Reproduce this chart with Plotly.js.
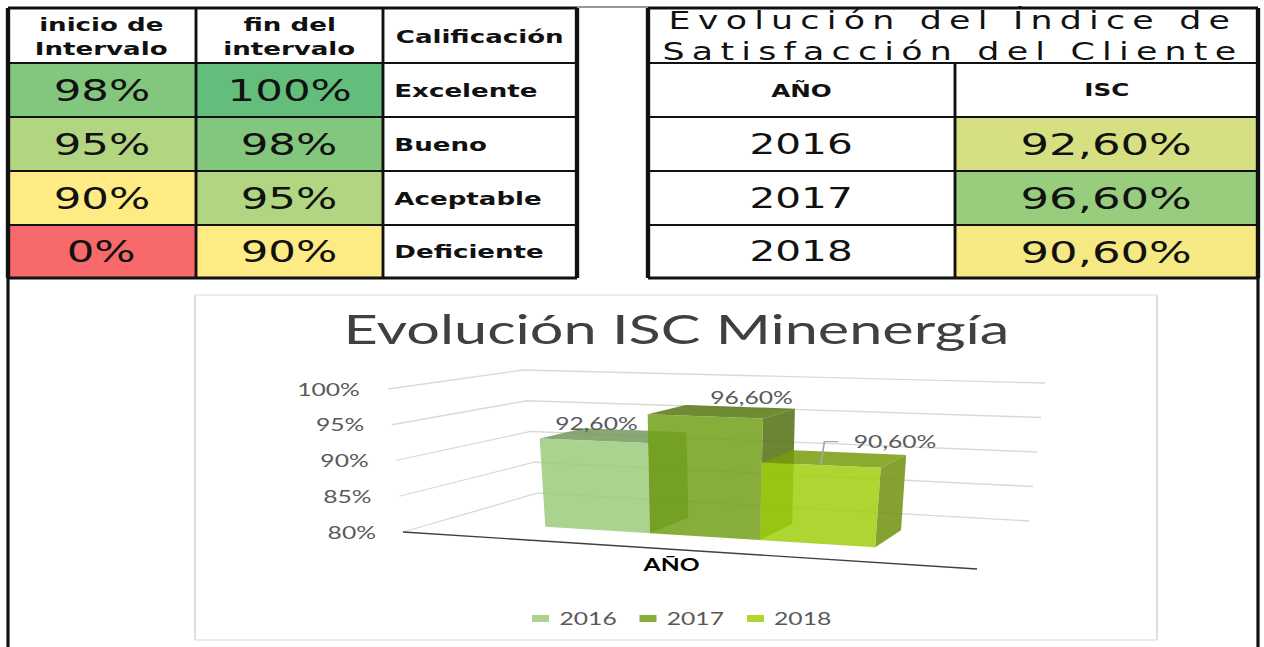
<!DOCTYPE html>
<html><head><meta charset="utf-8">
<script src="https://cdn.plot.ly/plotly-3.0.1.min.js"></script>
<style>
html,body{margin:0;padding:0;background:#fff;overflow:hidden;}
#wrap{width:1264px;height:647px;overflow:hidden;}
#chart{width:872px;height:647px;transform:scaleX(1.449541);transform-origin:0 0;}
</style></head>
<body><div id="wrap"><div id="chart"></div></div>
<script>
// ---------------- data ----------------
const intervalStart = [98, 95, 90, 0];
const intervalEnd = [100, 98, 95, 90];
const ratings = ['Excelente', 'Bueno', 'Aceptable', 'Deficiente'];
const leftHeaders = [['inicio de', 'Intervalo'], ['fin del', 'intervalo'], ['Calificación']];
const rightTitle = ['Evolución del Índice de', 'Satisfacción del Cliente'];
const rightHeaders = ['AÑO', 'ISC'];
const years = ['2016', '2017', '2018'];
const isc = [92.6, 96.6, 90.6];
const yTicks = [80, 85, 90, 95, 100];
const chartTitle = 'Evolución ISC Minenergía';
const categoryLabel = 'AÑO';

// ---------------- styles / layout config ----------------
const scaleStops = [[0, [248, 105, 107]], [90, [255, 235, 132]], [100, [99, 190, 123]]];
const seriesRGB = [[155, 203, 123], [114, 160, 23], [160, 207, 15]];
const faceAlpha = 0.85, topShade = 0.75, sideShade = 0.7;
const LT = {x: [8, 196, 383, 577], y: [8, 63, 117, 171, 225, 278]};
const RT = {x: [648, 955, 1258], y: [8, 63, 117, 171, 225, 278]};
const G = {FLb: [403, 532], FLt: [388, 389], FRb: [977, 569], FRt: [995, 409],
           BLb: [538, 493], BLt: [523, 370], BRb: [1029, 521], BRt: [1045, 383]};
const gapLeft = 0.205, barW = 0.2, dFront = 0.3, dBack = 0.67, warpK = 0.12;
const labelOffsets = [[-38, -7], [12, -9], [46, -11]];
const leaderFor = [false, false, true];
const TF = 'DejaVu Sans, Verdana, sans-serif';
const CF = 'Lato, Carlito, Calibri, sans-serif';

function colorScale(v) {
  for (let i = 0; i < scaleStops.length - 1; i++) {
    const [v0, c0] = scaleStops[i], [v1, c1] = scaleStops[i + 1];
    if (v <= v1) {
      const t = (v - v0) / (v1 - v0);
      return 'rgb(' + c0.map((c, k) => Math.round(c + (c1[k] - c) * t)).join(',') + ')';
    }
  }
  return 'rgb(' + scaleStops[scaleStops.length - 1][1].join(',') + ')';
}
const rgba = (c, f, a) => 'rgba(' + c.map(v => Math.round(v * f)).join(',') + ',' + a + ')';
const onWhite = (c, a) => 'rgb(' + c.map(v => Math.round(v * a + 255 * (1 - a))).join(',') + ')';
const pctComma = v => v.toFixed(2).replace('.', ',') + '%';

const shapes = [], ann = [], traces = [];
function rect(x0, y0, x1, y1, fill, line, layer) {
  shapes.push({type: 'rect', xref: 'x', yref: 'y', x0, y0, x1, y1, fillcolor: fill,
               line: line || {width: 0}, layer: layer || 'below'});
}
function seg(x0, y0, x1, y1, w, c) {
  shapes.push({type: 'line', xref: 'x', yref: 'y', x0, y0, x1, y1, line: {width: w, color: c}, layer: 'above'});
}
function text(x, y, t, font, xa) {
  ann.push({x, y, xref: 'x', yref: 'y', text: t, showarrow: false, font, xanchor: xa || 'center', yanchor: 'middle'});
}

// ---------------- left table ----------------
const hdrFont = {family: TF, size: 18, color: '#111', weight: 'bold'};
leftHeaders.forEach((lines, j) => {
  const xc = (LT.x[j] + LT.x[j + 1]) / 2, yc = (LT.y[0] + LT.y[1]) / 2;
  if (lines.length === 2) { text(xc, yc - 11.5, lines[0], hdrFont); text(xc, yc + 12.5, lines[1], hdrFont); }
  else text(xc, yc + 1, lines[0], hdrFont);
});
ratings.forEach((r, i) => {
  const y0 = LT.y[i + 1], y1 = LT.y[i + 2], yc = (y0 + y1) / 2;
  rect(LT.x[0], y0, LT.x[1], y1, colorScale(intervalStart[i]));
  rect(LT.x[1], y0, LT.x[2], y1, colorScale(intervalEnd[i]));
  text((LT.x[0] + LT.x[1]) / 2, yc, intervalStart[i] + '%', {family: TF, size: 30, color: '#111'});
  text((LT.x[1] + LT.x[2]) / 2, yc, intervalEnd[i] + '%', {family: TF, size: 30, color: '#111'});
  text(LT.x[2] + 8, yc, r, {family: TF, size: 18, color: '#111', weight: 'bold'}, 'left');
});
LT.x.forEach((x, k) => seg(x, LT.y[0], x, LT.y[LT.y.length - 1], (k === 0 || k === LT.x.length - 1) ? 3 : 2, '#111'));
LT.y.forEach((y, k) => seg(LT.x[0], y, LT.x[LT.x.length - 1], y, (k === 0 || k === LT.y.length - 1) ? 3 : 2, '#111'));

// ---------------- right table ----------------
text((RT.x[0] + RT.x[2]) / 2, (RT.y[0] + RT.y[1]) / 2,
  rightTitle.map(t => '<span style="letter-spacing:5px">' + t + '</span>').join('<br>'),
  {family: TF, size: 24, color: '#111'});
rightHeaders.forEach((h, j) => text((RT.x[j] + RT.x[j + 1]) / 2, (RT.y[1] + RT.y[2]) / 2, h,
  {family: TF, size: 17, color: '#111', weight: 'bold'}));
years.forEach((yr, i) => {
  const y0 = RT.y[i + 2], y1 = RT.y[i + 3], yc = (y0 + y1) / 2;
  rect(RT.x[1], y0, RT.x[2], y1, colorScale(isc[i]));
  text((RT.x[0] + RT.x[1]) / 2, yc, yr, {family: TF, size: 28, color: '#111'});
  text((RT.x[1] + RT.x[2]) / 2, yc, pctComma(isc[i]), {family: TF, size: 31, color: '#111'});
});
[RT.x[0], RT.x[2]].forEach(x => seg(x, RT.y[0], x, RT.y[RT.y.length - 1], 3, '#111'));
seg(RT.x[1], RT.y[1], RT.x[1], RT.y[RT.y.length - 1], 2, '#111');
RT.y.forEach((y, k) => seg(RT.x[0], y, RT.x[2], y, (k === 0 || k === RT.y.length - 1) ? 3 : 2, '#111'));

// outer frame
seg(LT.x[0], LT.y[5], LT.x[0], 647, 2.2, '#111');
seg(RT.x[2], RT.y[5], RT.x[2], 647, 2.2, '#111');
seg(LT.x[3], 7, RT.x[0], 7, 1.2, '#333');

// ---------------- 3D column chart ----------------
rect(195, 295, 1157, 640, '#ffffff', {width: 1.2, color: '#d9d9d9'}, 'below');
const vMin = yTicks[0], vMax = yTicks[yTicks.length - 1];
const lerp = (a, b, t) => [a[0] + (b[0] - a[0]) * t, a[1] + (b[1] - a[1]) * t];
function proj(u, d, val) {
  const v = (val - vMin) / (vMax - vMin);
  const b = lerp(lerp(G.FLb, G.FRb, u), lerp(G.BLb, G.BRb, u), d);
  const t = lerp(lerp(G.FLt, G.FRt, u), lerp(G.BLt, G.BRt, u), d);
  return lerp(b, t, v);
}
const warp = u => u + warpK * u * (u - 1);

// gridlines (left wall + back wall)
yTicks.forEach(t => {
  const pts = [proj(0, 0, t), proj(0, 1, t), proj(1, 1, t)];
  traces.push({x: pts.map(p => p[0]), y: pts.map(p => p[1]), mode: 'lines', hoverinfo: 'skip',
               line: {color: '#d9d9d9', width: 1.3}});
  const p0 = proj(0, 0, t);
  text(p0[0] - 25, p0[1], t + '%', {family: CF, size: 17, color: '#595959'}, 'right');
});

function face(pts, color) {
  const xs = pts.map(p => p[0]), ys = pts.map(p => p[1]);
  xs.push(xs[0]); ys.push(ys[0]);
  traces.push({x: xs, y: ys, mode: 'lines', fill: 'toself', fillcolor: color, hoverinfo: 'skip',
               line: {width: 0, color: 'rgba(0,0,0,0)'}});
}
isc.forEach((val, i) => {
  const u0 = warp(gapLeft + i * barW), u1 = warp(gapLeft + (i + 1) * barW);
  const c = seriesRGB[i];
  face([proj(u0, dFront, val), proj(u1, dFront, val), proj(u1, dBack, val), proj(u0, dBack, val)], rgba(c, topShade, faceAlpha));
  face([proj(u1, dFront, vMin), proj(u1, dBack, vMin), proj(u1, dBack, val), proj(u1, dFront, val)], rgba(c, sideShade, faceAlpha));
  face([proj(u0, dFront, vMin), proj(u1, dFront, vMin), proj(u1, dFront, val), proj(u0, dFront, val)], rgba(c, 1, faceAlpha));
});
// front floor edge (category axis)
{
  const a = proj(0, 0, vMin), b = proj(1, 0, vMin);
  traces.push({x: [a[0], b[0]], y: [a[1], b[1]], mode: 'lines', hoverinfo: 'skip', line: {color: '#404040', width: 1.4}});
  const m = proj(0.5, 0, vMin);
  text(m[0] - 19, m[1] + 14, categoryLabel, {family: CF, size: 17, color: '#000', weight: 'bold'});
}
// data labels
isc.forEach((val, i) => {
  const um = warp(gapLeft + (i + 0.5) * barW);
  const p = proj(um, dBack, val);
  const lx = p[0] + labelOffsets[i][0], ly = p[1] + labelOffsets[i][1];
  text(lx, ly, pctComma(val), {family: CF, size: 17, color: '#595959'});
  if (leaderFor[i]) {
    const a = proj(um, dFront, val);
    const end = [lx - 57, ly], elbow = [lx - 71, ly];
    traces.push({x: [a[0], elbow[0], end[0]], y: [a[1], elbow[1], end[1]], mode: 'lines', hoverinfo: 'skip',
                 line: {color: '#a6a6a6', width: 1.2}});
  }
});
// title
text(676, 328, chartTitle, {family: CF, size: 41, color: '#404040'});
// legend
years.forEach((yr, i) => {
  const sl = 532 + i * 107.5;
  rect(sl, 615, sl + 17, 622, onWhite(seriesRGB[i], faceAlpha), {width: 0}, 'above');
  text(sl + 24, 618.5, yr, {family: CF, size: 17, color: '#595959'}, 'left');
});

const layout = {
  width: 872, height: 647, autosize: false, margin: {l: 0, r: 0, t: 0, b: 0, pad: 0},
  xaxis: {range: [0, 1264], visible: false, fixedrange: true},
  yaxis: {range: [647, 0], visible: false, fixedrange: true},
  showlegend: false, paper_bgcolor: '#ffffff', plot_bgcolor: '#ffffff',
  shapes: shapes, annotations: ann
};
Plotly.newPlot('chart', traces, layout, {staticPlot: true, displayModeBar: false});
</script>
</body></html>
